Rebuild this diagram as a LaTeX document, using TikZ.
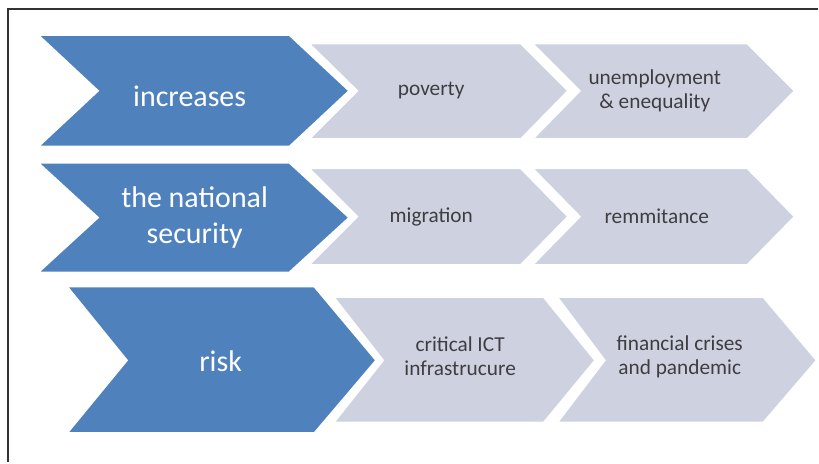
\documentclass[tikz,border=0pt]{standalone}
\usepackage{fontspec}
\setmainfont{Carlito}

\definecolor{chevblue}{RGB}{79,129,189}
\definecolor{chevgray}{RGB}{206,210,224}
\definecolor{chevtext}{RGB}{62,62,66}

\tikzset{every picture/.style={line width=0.75pt}}

\begin{document}
\begin{tikzpicture}[x=0.75pt,y=0.75pt,yscale=-1,xscale=1,
	blueshape/.style={draw=white,fill=chevblue,line width=1.5,line join=miter},
	grayshape/.style={draw=white,fill=chevgray,line width=2.25,line join=miter},
	bluetext/.style={text=white,align=center,font=\fontsize{22.5}{27.5}\selectfont},
	graytext/.style={text=chevtext,align=center,font=\fontsize{16}{18}\selectfont}]
	\path (0,0) rectangle (819,463); %set diagram left start at 0, and has height of 463

	%Straight Lines [frame]
	\draw [color={rgb, 255:red, 51; green, 51; blue, 51 }, line width=1.5]  (8,463) -- (8,9) -- (819,9) ;

	%Shape: Chevron [row 1]
	\draw [grayshape]  (532,43) -- (749,43) -- (797,91) -- (749,140) -- (532,140) -- (580,91) -- cycle ;
	\draw [grayshape]  (308,43) -- (522,43) -- (570,91) -- (522,140) -- (308,140) -- (357,91) -- cycle ;
	\draw [blueshape]  (38,35) -- (290,35) -- (350,91) -- (290,147) -- (38,147) -- (98,91) -- cycle ;
	%Shape: Chevron [row 2]
	\draw [grayshape]  (532,168) -- (749,168) -- (797,217) -- (749,266) -- (532,266) -- (580,217) -- cycle ;
	\draw [grayshape]  (308,168) -- (522,168) -- (570,217) -- (522,266) -- (308,266) -- (357,217) -- cycle ;
	\draw [blueshape]  (38,163) -- (290,163) -- (350,218) -- (290,273) -- (38,273) -- (98,218) -- cycle ;
	%Shape: Chevron [row 3]
	\draw [grayshape]  (557,297) -- (765,297) -- (819,361) -- (765,424) -- (557,424) -- (605,361) -- cycle ;
	\draw [grayshape]  (333,297) -- (545,297) -- (597,361) -- (545,424) -- (333,424) -- (383,361) -- cycle ;
	\draw [blueshape]  (67,287) -- (315,287) -- (377,361) -- (315,434) -- (67,434) -- (127,361) -- cycle ;

	% Text Node
	\node [bluetext] (increases) at (190,96) {increases};
	% Text Node
	\node [bluetext] (natsec) at (195,218) {the national\\security};
	% Text Node
	\node [bluetext] (risk) at (221,362) {risk};

	% Text Node
	\node [graytext] (poverty) at (432,91) {poverty};
	% Text Node
	\node [graytext] (unemp) at (656,91) {unemployment\\\& enequality};
	% Text Node
	\node [graytext] (migration) at (432,217) {migration};
	% Text Node
	\node [graytext] (remit) at (658,217) {remmitance};
	% Text Node
	\node [graytext] (ict) at (461,357) {critical ICT\\infrastrucure};
	% Text Node
	\node [graytext] (fincrisis) at (681,357) {financial crises\\and pandemic};

\end{tikzpicture}
\end{document}
